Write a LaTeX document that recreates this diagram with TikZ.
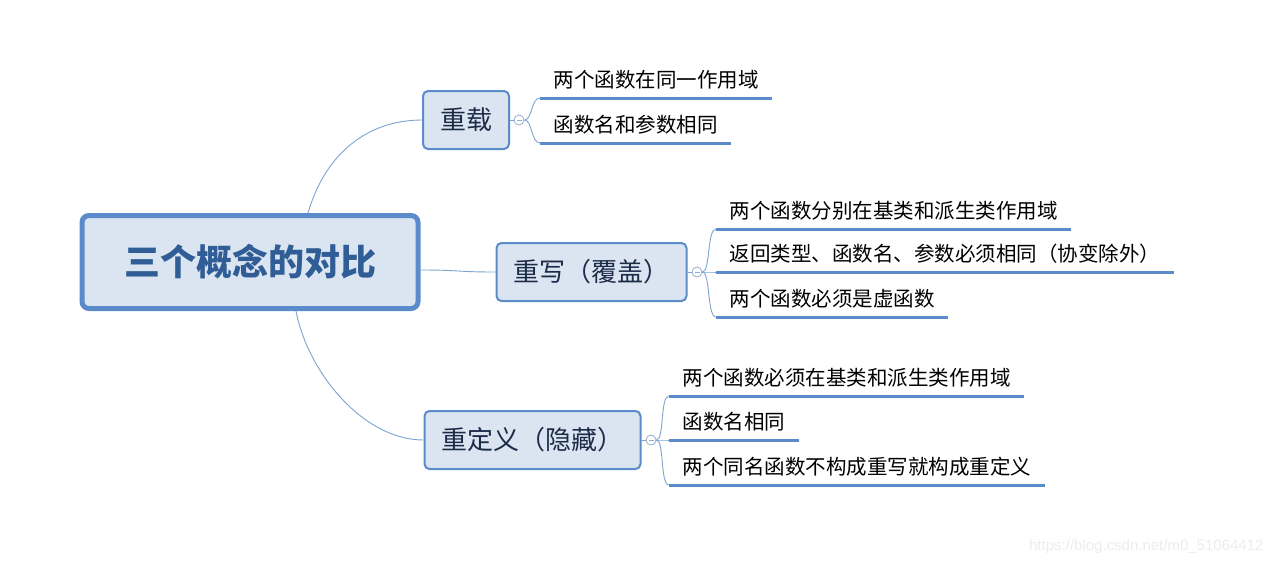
\documentclass[tikz,border=0pt]{standalone}
\usepackage{fontspec}
\setmainfont{Noto Sans CJK SC}
\newfontfamily\wmfont{Liberation Sans}
\usepackage{xcolor}
\definecolor{boxfill}{HTML}{DBE5F1}
\definecolor{boxline}{HTML}{5B8BCB}
\definecolor{roottext}{HTML}{305D95}
\definecolor{subtext}{HTML}{1C2B48}
\definecolor{linkc}{HTML}{7FA4D3}
\definecolor{foldc}{HTML}{93AECF}
\usetikzlibrary{positioning}

\begin{document}
\begin{tikzpicture}[
  x=1pt,y=-1pt,
  rootbox/.style={draw=boxline,line width=5pt,rounded corners=7pt,fill=boxfill,
    minimum width=336pt,minimum height=93pt,font=\fontsize{36}{40}\selectfont\bfseries,text=roottext},
  subbox/.style={draw=boxline,line width=2pt,rounded corners=5pt,fill=boxfill,
    minimum height=58pt,inner xsep=17pt,font=\fontsize{26}{30}\selectfont,text=subtext},
  fold/.style={circle,draw=foldc,fill=white,line width=0.8pt,minimum size=10pt,inner sep=0pt,
    path picture={\draw[foldc,line width=0.8pt] ([xshift=-2.5pt]path picture bounding box.center)
      -- ([xshift=2.5pt]path picture bounding box.center);}},
  leaf/.style={anchor=south west,inner xsep=13.5pt,inner ysep=6pt,text depth=4.5pt,
    font=\fontsize{20.5}{24}\selectfont},
  uline/.style={draw=boxline,line width=3pt},
  link/.style={draw=linkc,line width=0.9pt}
]
\useasboundingbox[fill=white] (0,0) rectangle (1276,565);

\node[rootbox] (cmp) at (250,262) {三个概念的对比};
\node[subbox] (ovl) at (466,120) {重载};
\node[subbox] (ovr) at (591.5,272) {重写（覆盖）};
\node[subbox] (hid) at (532.5,440) {重定义（隐藏）};

\node[fold] (f1) at (519,120) {};
\node[fold] (f2) at (697,272) {};
\node[fold] (f3) at (651,440) {};

% leaves
\node[leaf] (ovl1) at (540,98) {两个函数在同一作用域};
\node[leaf] (ovl2) at (540,143) {函数名和参数相同};
\node[leaf] (ovr1) at (716,229) {两个函数分别在基类和派生类作用域};
\node[leaf] (ovr2) at (716,272) {返回类型、函数名、参数必须相同（协变除外）};
\node[leaf] (ovr3) at (716,317) {两个函数必须是虚函数};
\node[leaf] (hid1) at (669,396) {两个函数必须在基类和派生类作用域};
\node[leaf] (hid2) at (669,440) {函数名相同};
\node[leaf] (hid3) at (669,485) {两个同名函数不构成重写就构成重定义};

\foreach \l in {ovl1,ovl2,ovr1,ovr2,ovr3,hid1,hid2,hid3}
  \draw[uline] (\l.south west) -- (\l.south east);

\draw[link] ([xshift=58pt]cmp.north) .. controls +(18,-62) and +(-52,0) .. (ovl.west);
\draw[link] ([yshift=-8pt]cmp.east) .. controls +(40,0) and +(-40,0) .. (ovr.west);
\draw[link] ([xshift=46pt]cmp.south) .. controls +(12,62) and +(-60,0) .. (hid.west);

\draw[link] (ovl.east) -- (f1.west);
\draw[link] (ovr.east) -- (f2.west);
\draw[link] (hid.east) -- (f3.west);

\foreach \f/\l in {f1/ovl1,f1/ovl2,f2/ovr1,f2/ovr2,f2/ovr3,f3/hid1,f3/hid2,f3/hid3}
  \draw[link] (\f.east) .. controls +(8,0) and +(-9,0) .. (\l.south west);

\node[anchor=east,text=black!7,font=\wmfont\fontsize{15}{18}\selectfont] (wm) at (1267,547)
  {https://blog.csdn.net/m0\_51064412};
\end{tikzpicture}
\end{document}
